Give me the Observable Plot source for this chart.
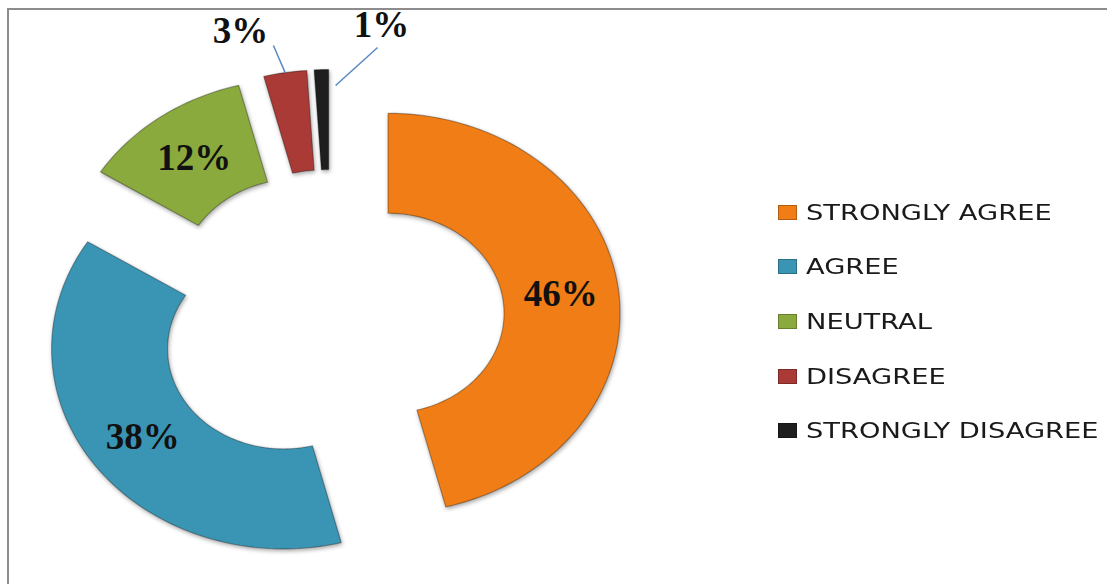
<!DOCTYPE html>
<html>
<head>
<meta charset="utf-8">
<script src="https://cdn.jsdelivr.net/npm/d3@7"></script>
<script src="https://cdn.jsdelivr.net/npm/@observablehq/plot@0.6"></script>
<style>
  html, body { margin: 0; padding: 0; background: #fff; }
  #wrap { position: relative; width: 1107px; height: 584px; overflow: hidden; }
  #frame { position: absolute; left: 7px; top: 8px; width: 1200px; height: 700px;
           border-top: 2px solid #8c8c8c; border-left: 2px solid #8c8c8c; }
  #chart { position: absolute; left: 0; top: 0; }
  #chart g[aria-label="line"] { filter: drop-shadow(1px 2px 2px rgba(0,0,0,0.35)); }
  #legend { position: absolute; left: 778px; top: 0; font-family: "DejaVu Sans", sans-serif; }
  .item { position: absolute; left: 0; display: flex; align-items: center; white-space: nowrap; height: 20px; }
  .sw { width: 19px; height: 15px; box-sizing: border-box; border: 1px solid rgba(0,0,0,0.25); }
  .lab { font-size: 22px; color: #1a1a1a; margin-left: 9px; transform: scaleX(1.24); transform-origin: left center; }
</style>
</head>
<body>
<div id="wrap">
  <div id="frame"></div>
  <div id="chart"></div>
  <div id="legend"></div>
</div>
<script>
// ---- data ----
const categories = ["STRONGLY AGREE", "AGREE", "NEUTRAL", "DISAGREE", "STRONGLY DISAGREE"];
const values = [46, 38, 12, 3, 1];
const valueLabels = ["46%", "38%", "12%", "3%", "1%"];
const colors = ["#F07D16", "#3A95B5", "#8AAA3E", "#A93A36", "#1E1E1E"];

// ---- layout / style ----
const HOLE = 0.5;       // inner radius as fraction of outer
const EXPLODE = 0.25;   // slice explosion as fraction of outer radius
const CX = 330, CY = 319, RX = 232, RY = 200;
const insideLabel = [true, true, true, false, false];
// outside label placement (unit space, relative to chart centre, y up)
const outsideLabelPos = { "DISAGREE": [-0.388, 1.44], "STRONGLY DISAGREE": [0.22, 1.47] };
const leaderEnds = {
  "DISAGREE": { to: [-0.246, 1.37] },
  "STRONGLY DISAGREE": { from: [0.022, 1.17], to: [0.203, 1.36] }
};

// ---- geometry from data ----
const total = d3.sum(values);
let acc = 0;
const slices = categories.map((cat, i) => {
  const a0 = acc / total * 2 * Math.PI;
  acc += values[i];
  const a1 = acc / total * 2 * Math.PI;
  const am = (a0 + a1) / 2;
  const ex = EXPLODE * Math.sin(am), ey = EXPLODE * Math.cos(am);
  return { cat, i, a0, a1, am, ex, ey };
});

const pts = [];
for (const s of slices) {
  const n = Math.max(8, Math.ceil((s.a1 - s.a0) / (2 * Math.PI) * 200));
  const ring = [];
  for (let k = 0; k <= n; k++) {
    const a = s.a0 + (s.a1 - s.a0) * k / n;
    ring.push([s.ex + Math.sin(a), s.ey + Math.cos(a)]);
  }
  for (let k = n; k >= 0; k--) {
    const a = s.a0 + (s.a1 - s.a0) * k / n;
    ring.push([s.ex + HOLE * Math.sin(a), s.ey + HOLE * Math.cos(a)]);
  }
  ring.push(ring[0]);
  for (const [x, y] of ring) pts.push({ cat: s.cat, x, y });
}

const labelPts = slices.map(s => {
  if (insideLabel[s.i]) {
    const r = (1 + HOLE) / 2;
    return { text: valueLabels[s.i], x: s.ex + r * Math.sin(s.am), y: s.ey + r * Math.cos(s.am) };
  }
  const p = outsideLabelPos[s.cat];
  return { text: valueLabels[s.i], x: p[0], y: p[1] };
});

const leaders = slices.filter(s => leaderEnds[s.cat]).map(s => {
  const L = leaderEnds[s.cat];
  const from = L.from || [s.ex + Math.sin(s.am), s.ey + Math.cos(s.am)];
  return { x1: from[0], y1: from[1], x2: L.to[0], y2: L.to[1] };
});

const chart = Plot.plot({
  width: 720,
  height: 584,
  margin: 0,
  x: { domain: [-1, 1], range: [CX - RX, CX + RX], axis: null },
  y: { domain: [-1, 1], range: [CY + RY, CY - RY], axis: null },
  color: { domain: categories, range: colors },
  marks: [
    Plot.line(pts, { x: "x", y: "y", z: "cat", fill: "cat", stroke: "#000", strokeOpacity: 0.3, strokeWidth: 1.2, curve: "linear-closed" }),
    Plot.link(leaders, { x1: "x1", y1: "y1", x2: "x2", y2: "y2", stroke: "#5A89C2", strokeWidth: 1.5 }),
    Plot.text(labelPts, { x: "x", y: "y", text: "text", fontSize: 37, fontWeight: "bold",
      fontFamily: "Liberation Serif, serif", fill: "#111" })
  ]
});
document.getElementById("chart").appendChild(chart);

// ---- legend ----
const legend = document.getElementById("legend");
const rowY = [212, 266, 321, 376, 430];
categories.forEach((c, i) => {
  const item = document.createElement("div");
  item.className = "item";
  item.style.top = (rowY[i] - 10) + "px";
  const sw = document.createElement("div");
  sw.className = "sw";
  sw.style.background = colors[i];
  const lab = document.createElement("span");
  lab.className = "lab";
  lab.textContent = c;
  item.appendChild(sw);
  item.appendChild(lab);
  legend.appendChild(item);
});
</script>
</body>
</html>
